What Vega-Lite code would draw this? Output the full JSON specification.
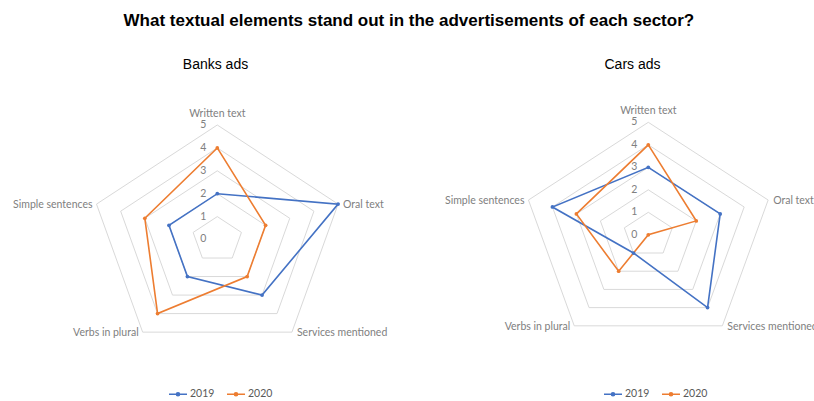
{
  "$schema": "https://vega.github.io/schema/vega-lite/v6.json",
  "background": "white",
  "padding": {"left": 0, "right": 0, "top": 12, "bottom": 0},
  "title": {"text": "What textual elements stand out in the advertisements of each sector?", "font": "Liberation Sans", "fontSize": 17, "fontWeight": "bold", "color": "black", "anchor": "middle", "offset": 28},
  "datasets": {
    "scores": [
      {"chart": "Banks ads", "year": "2019", "element": "Written text", "idx": 0, "value": 2},
      {"chart": "Banks ads", "year": "2019", "element": "Oral text", "idx": 1, "value": 5},
      {"chart": "Banks ads", "year": "2019", "element": "Services mentioned", "idx": 2, "value": 3},
      {"chart": "Banks ads", "year": "2019", "element": "Verbs in plural", "idx": 3, "value": 2},
      {"chart": "Banks ads", "year": "2019", "element": "Simple sentences", "idx": 4, "value": 2},
      {"chart": "Banks ads", "year": "2020", "element": "Written text", "idx": 0, "value": 4},
      {"chart": "Banks ads", "year": "2020", "element": "Oral text", "idx": 1, "value": 2},
      {"chart": "Banks ads", "year": "2020", "element": "Services mentioned", "idx": 2, "value": 2},
      {"chart": "Banks ads", "year": "2020", "element": "Verbs in plural", "idx": 3, "value": 4},
      {"chart": "Banks ads", "year": "2020", "element": "Simple sentences", "idx": 4, "value": 3},
      {"chart": "Cars ads", "year": "2019", "element": "Written text", "idx": 0, "value": 3},
      {"chart": "Cars ads", "year": "2019", "element": "Oral text", "idx": 1, "value": 3},
      {"chart": "Cars ads", "year": "2019", "element": "Services mentioned", "idx": 2, "value": 4},
      {"chart": "Cars ads", "year": "2019", "element": "Verbs in plural", "idx": 3, "value": 1},
      {"chart": "Cars ads", "year": "2019", "element": "Simple sentences", "idx": 4, "value": 4},
      {"chart": "Cars ads", "year": "2020", "element": "Written text", "idx": 0, "value": 4},
      {"chart": "Cars ads", "year": "2020", "element": "Oral text", "idx": 1, "value": 2},
      {"chart": "Cars ads", "year": "2020", "element": "Services mentioned", "idx": 2, "value": 0},
      {"chart": "Cars ads", "year": "2020", "element": "Verbs in plural", "idx": 3, "value": 2},
      {"chart": "Cars ads", "year": "2020", "element": "Simple sentences", "idx": 4, "value": 3}
    ],
    "axes": [
      {"element": "Written text", "idx": 0, "ticks": [0, 1, 2, 3, 4, 5]},
      {"element": "Oral text", "idx": 1, "ticks": [0, 1, 2, 3, 4, 5]},
      {"element": "Services mentioned", "idx": 2, "ticks": [0, 1, 2, 3, 4, 5]},
      {"element": "Verbs in plural", "idx": 3, "ticks": [0, 1, 2, 3, 4, 5]},
      {"element": "Simple sentences", "idx": 4, "ticks": [0, 1, 2, 3, 4, 5]}
    ]
  },
  "spacing": 0,
  "hconcat": [
    {
      "width": 407,
      "height": 280,
      "title": {"text": "Banks ads", "font": "Liberation Sans", "fontSize": 14, "fontWeight": "normal", "color": "black", "anchor": "middle", "dx": 12, "offset": 8},
      "layer": [
        {
          "data": {"name": "axes"},
          "transform": [
            {"flatten": ["ticks"], "as": ["tick"]},
            {"filter": "datum.tick > 0"},
            {"calculate": "PI/2 - datum.idx*2*PI/5", "as": "angle"},
            {"calculate": "datum.tick*cos(datum.angle)", "as": "gx"},
            {"calculate": "datum.tick*sin(datum.angle)", "as": "gy"}
          ],
          "mark": {"type": "line", "interpolate": "linear-closed", "stroke": "#D9D9D9", "strokeWidth": 1},
          "encoding": {
            "x": {"field": "gx", "type": "quantitative", "scale": {"domain": [-8.555, 7.469], "nice": false, "zero": false}, "axis": null},
            "y": {"field": "gy", "type": "quantitative", "scale": {"domain": [-5.262, 6.965], "nice": false, "zero": false}, "axis": null},
            "detail": {"field": "tick", "type": "nominal"},
            "order": {"field": "idx", "type": "quantitative"}
          }
        },
        {
          "data": {"name": "axes"},
          "transform": [
            {"flatten": ["ticks"], "as": ["tick"]},
            {"filter": "datum.idx == 0"},
            {"calculate": "0", "as": "zx"}
          ],
          "mark": {"type": "text", "align": "right", "baseline": "middle", "dx": -11, "font": "Lato", "fontSize": 10.5, "color": "#808080"},
          "encoding": {
            "x": {"field": "zx", "type": "quantitative"},
            "y": {"field": "tick", "type": "quantitative"},
            "text": {"field": "tick", "type": "quantitative"}
          }
        },
        {
          "data": {"name": "scores"},
          "transform": [
            {"filter": "datum.chart == 'Banks ads'"},
            {"calculate": "PI/2 - datum.idx*2*PI/5", "as": "angle"},
            {"calculate": "datum.value*cos(datum.angle)", "as": "px"},
            {"calculate": "datum.value*sin(datum.angle)", "as": "py"}
          ],
          "mark": {"type": "line", "interpolate": "linear-closed", "strokeWidth": 1.6, "point": {"filled": true, "size": 14}},
          "encoding": {
            "x": {"field": "px", "type": "quantitative"},
            "y": {"field": "py", "type": "quantitative"},
            "order": {"field": "idx", "type": "quantitative"},
            "color": {"field": "year", "type": "nominal", "scale": {"domain": ["2019", "2020"], "range": ["#4472C4", "#ED7D31"]},
              "legend": {"title": null, "orient": "none", "direction": "horizontal", "legendX": 168, "legendY": 304, "symbolType": "M-1,0H1M0.17,0A0.17,0.17 0 1,1 -0.17,0A0.17,0.17 0 1,1 0.17,0", "symbolSize": 324, "symbolStrokeWidth": 1.6, "labelFont": "Lato", "labelFontSize": 10.5, "labelColor": "#595959", "labelOffset": 2, "columnPadding": 8}}
          }
        },
        {
          "data": {"name": "axes"},
          "transform": [
            {"filter": "datum.idx == 0"},
            {"calculate": "0", "as": "lx"},
            {"calculate": "5", "as": "ly"}
          ],
          "mark": {"type": "text", "align": "center", "baseline": "bottom", "dy": -6, "font": "Lato", "fontSize": 10.5, "color": "#808080"},
          "encoding": {
            "x": {"field": "lx", "type": "quantitative"},
            "y": {"field": "ly", "type": "quantitative"},
            "text": {"field": "element", "type": "nominal"}
          }
        },
        {
          "data": {"name": "axes"},
          "transform": [
            {"filter": "datum.idx == 1 || datum.idx == 2"},
            {"calculate": "PI/2 - datum.idx*2*PI/5", "as": "angle"},
            {"calculate": "5*cos(datum.angle)", "as": "lx"},
            {"calculate": "5*sin(datum.angle)", "as": "ly"}
          ],
          "mark": {"type": "text", "align": "left", "baseline": "middle", "dx": 5, "dy": 1, "font": "Lato", "fontSize": 10.5, "color": "#808080"},
          "encoding": {
            "x": {"field": "lx", "type": "quantitative"},
            "y": {"field": "ly", "type": "quantitative"},
            "text": {"field": "element", "type": "nominal"}
          }
        },
        {
          "data": {"name": "axes"},
          "transform": [
            {"filter": "datum.idx == 3 || datum.idx == 4"},
            {"calculate": "PI/2 - datum.idx*2*PI/5", "as": "angle"},
            {"calculate": "5*cos(datum.angle)", "as": "lx"},
            {"calculate": "5*sin(datum.angle)", "as": "ly"}
          ],
          "mark": {"type": "text", "align": "right", "baseline": "middle", "dx": -4, "dy": 1, "font": "Lato", "fontSize": 10.5, "color": "#808080"},
          "encoding": {
            "x": {"field": "lx", "type": "quantitative"},
            "y": {"field": "ly", "type": "quantitative"},
            "text": {"field": "element", "type": "nominal"}
          }
        }
      ]
    },
    {
      "width": 407,
      "height": 280,
      "title": {"text": "Cars ads", "font": "Liberation Sans", "fontSize": 14, "fontWeight": "normal", "color": "black", "anchor": "middle", "dx": 22, "offset": 8},
      "layer": [
        {
          "data": {"name": "axes"},
          "transform": [
            {"flatten": ["ticks"], "as": ["tick"]},
            {"filter": "datum.tick > 0"},
            {"calculate": "PI/2 - datum.idx*2*PI/5", "as": "angle"},
            {"calculate": "datum.tick*cos(datum.angle)", "as": "gx"},
            {"calculate": "datum.tick*sin(datum.angle)", "as": "gy"}
          ],
          "mark": {"type": "line", "interpolate": "linear-closed", "stroke": "#D9D9D9", "strokeWidth": 1},
          "encoding": {
            "x": {"field": "gx", "type": "quantitative", "scale": {"domain": [-9.575, 6.575], "nice": false, "zero": false}, "axis": null},
            "y": {"field": "gy", "type": "quantitative", "scale": {"domain": [-5.564, 6.88], "nice": false, "zero": false}, "axis": null},
            "detail": {"field": "tick", "type": "nominal"},
            "order": {"field": "idx", "type": "quantitative"}
          }
        },
        {
          "data": {"name": "axes"},
          "transform": [
            {"flatten": ["ticks"], "as": ["tick"]},
            {"filter": "datum.idx == 0"},
            {"calculate": "0", "as": "zx"}
          ],
          "mark": {"type": "text", "align": "right", "baseline": "middle", "dx": -11, "font": "Lato", "fontSize": 10.5, "color": "#808080"},
          "encoding": {
            "x": {"field": "zx", "type": "quantitative"},
            "y": {"field": "tick", "type": "quantitative"},
            "text": {"field": "tick", "type": "quantitative"}
          }
        },
        {
          "data": {"name": "scores"},
          "transform": [
            {"filter": "datum.chart == 'Cars ads'"},
            {"calculate": "PI/2 - datum.idx*2*PI/5", "as": "angle"},
            {"calculate": "datum.value*cos(datum.angle)", "as": "px"},
            {"calculate": "datum.value*sin(datum.angle)", "as": "py"}
          ],
          "mark": {"type": "line", "interpolate": "linear-closed", "strokeWidth": 1.6, "point": {"filled": true, "size": 14}},
          "encoding": {
            "x": {"field": "px", "type": "quantitative"},
            "y": {"field": "py", "type": "quantitative"},
            "order": {"field": "idx", "type": "quantitative"},
            "color": {"field": "year", "type": "nominal", "scale": {"domain": ["2019", "2020"], "range": ["#4472C4", "#ED7D31"]},
              "legend": {"title": null, "orient": "none", "direction": "horizontal", "legendX": 196, "legendY": 304, "symbolType": "M-1,0H1M0.17,0A0.17,0.17 0 1,1 -0.17,0A0.17,0.17 0 1,1 0.17,0", "symbolSize": 324, "symbolStrokeWidth": 1.6, "labelFont": "Lato", "labelFontSize": 10.5, "labelColor": "#595959", "labelOffset": 2, "columnPadding": 8}}
          }
        },
        {
          "data": {"name": "axes"},
          "transform": [
            {"filter": "datum.idx == 0"},
            {"calculate": "0", "as": "lx"},
            {"calculate": "5", "as": "ly"}
          ],
          "mark": {"type": "text", "align": "center", "baseline": "bottom", "dy": -6, "font": "Lato", "fontSize": 10.5, "color": "#808080"},
          "encoding": {
            "x": {"field": "lx", "type": "quantitative"},
            "y": {"field": "ly", "type": "quantitative"},
            "text": {"field": "element", "type": "nominal"}
          }
        },
        {
          "data": {"name": "axes"},
          "transform": [
            {"filter": "datum.idx == 1 || datum.idx == 2"},
            {"calculate": "PI/2 - datum.idx*2*PI/5", "as": "angle"},
            {"calculate": "5*cos(datum.angle)", "as": "lx"},
            {"calculate": "5*sin(datum.angle)", "as": "ly"}
          ],
          "mark": {"type": "text", "align": "left", "baseline": "middle", "dx": 5, "dy": 1, "font": "Lato", "fontSize": 10.5, "color": "#808080"},
          "encoding": {
            "x": {"field": "lx", "type": "quantitative"},
            "y": {"field": "ly", "type": "quantitative"},
            "text": {"field": "element", "type": "nominal"}
          }
        },
        {
          "data": {"name": "axes"},
          "transform": [
            {"filter": "datum.idx == 3 || datum.idx == 4"},
            {"calculate": "PI/2 - datum.idx*2*PI/5", "as": "angle"},
            {"calculate": "5*cos(datum.angle)", "as": "lx"},
            {"calculate": "5*sin(datum.angle)", "as": "ly"}
          ],
          "mark": {"type": "text", "align": "right", "baseline": "middle", "dx": -4, "dy": 1, "font": "Lato", "fontSize": 10.5, "color": "#808080"},
          "encoding": {
            "x": {"field": "lx", "type": "quantitative"},
            "y": {"field": "ly", "type": "quantitative"},
            "text": {"field": "element", "type": "nominal"}
          }
        }
      ]
    }
  ],
  "resolve": {"scale": {"x": "independent", "y": "independent", "color": "independent"}, "legend": {"color": "independent"}},
  "config": {"view": {"stroke": null}}
}
